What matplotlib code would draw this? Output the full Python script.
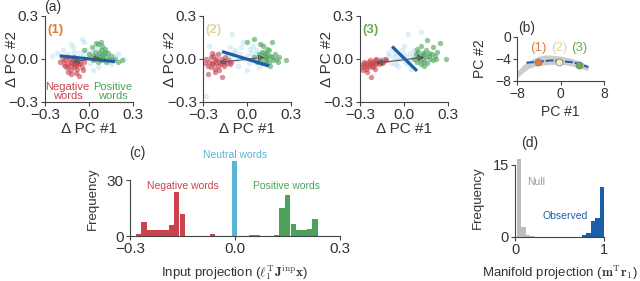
import matplotlib.pyplot as plt

plt.rcParams['font.family'] = ['Liberation Sans', 'DejaVu Sans']
plt.rcParams['mathtext.fontset'] = 'cm'

# ---- (a) scatter clouds: delta PC coordinates per word group ----
red1_x = [-0.20, -0.18, -0.17, -0.16, -0.15, -0.15, -0.14, -0.13, -0.13, -0.12, -0.12, -0.11, -0.11, -0.10, -0.10,
          -0.09, -0.09, -0.08, -0.08, -0.07, -0.06, -0.05, -0.04, -0.03, -0.12, -0.10, -0.14, -0.07, -0.09, -0.16]
red1_y = [-0.02, 0.00, -0.04, -0.01, -0.06, 0.01, -0.03, -0.05, 0.00, -0.02, -0.08, -0.04, -0.01, -0.06, -0.03,
          -0.05, -0.10, -0.02, -0.07, -0.04, -0.03, -0.06, -0.08, -0.02, -0.11, 0.01, -0.09, -0.12, -0.03, -0.05]
grn1_x = [0.00, 0.02, 0.03, 0.04, 0.05, 0.06, 0.06, 0.07, 0.07, 0.08, 0.08, 0.09, 0.09, 0.10, 0.10,
          0.11, 0.12, 0.12, 0.13, 0.14, 0.15, 0.16, 0.18, 0.20, 0.23, 0.05, 0.08, 0.11, 0.03, -0.03]
grn1_y = [0.03, 0.08, -0.01, 0.05, 0.02, -0.02, 0.10, 0.01, 0.04, -0.01, 0.06, 0.02, 0.09, 0.00, 0.03,
          0.05, -0.02, 0.01, 0.04, 0.00, 0.02, -0.01, 0.00, -0.02, -0.01, 0.11, 0.12, 0.07, 0.02, 0.06]
neu1_x = [-0.25, -0.22, -0.20, -0.18, -0.16, -0.14, -0.12, -0.10, -0.08, -0.06, -0.05, -0.04, -0.02, 0.00, 0.01,
          0.02, 0.04, 0.05, 0.06, 0.08, 0.10, 0.12, 0.14, 0.17, 0.20, 0.24, -0.15, -0.08, -0.03, 0.03,
          0.09, -0.11, 0.00, 0.07, 0.15]
neu1_y = [0.02, 0.04, -0.01, 0.06, 0.02, 0.03, 0.10, 0.05, 0.01, 0.04, 0.14, 0.02, 0.06, 0.03, -0.03,
          0.05, 0.01, 0.08, -0.06, 0.03, 0.00, 0.04, -0.02, 0.02, 0.03, 0.00, -0.07, -0.09, 0.12, -0.08,
          0.07, 0.08, 0.01, 0.05, -0.04]
line1 = [(-0.20, 0.02), (0.18, -0.02)]
arrow1 = [(-0.11, -0.02), (0.08, 0.005)]

red2_x = [-0.29, -0.28, -0.27, -0.26, -0.25, -0.25, -0.24, -0.23, -0.23, -0.22, -0.22, -0.21, -0.21, -0.20, -0.20,
          -0.19, -0.19, -0.18, -0.18, -0.17, -0.16, -0.15, -0.14, -0.13, -0.12, -0.11, -0.27, -0.17, -0.22, -0.24]
red2_y = [-0.03, 0.00, -0.05, -0.02, 0.01, -0.06, -0.03, 0.02, -0.04, -0.01, -0.07, 0.00, -0.03, -0.05, 0.03,
          -0.02, -0.08, 0.00, -0.04, -0.02, -0.05, 0.01, -0.03, -0.01, -0.04, -0.02, -0.11, -0.13, -0.09, 0.04]
grn2_x = [0.05, 0.07, 0.08, 0.09, 0.10, 0.10, 0.11, 0.12, 0.12, 0.13, 0.13, 0.14, 0.14, 0.15, 0.15,
          0.16, 0.17, 0.18, 0.19, 0.20, 0.21, 0.22, 0.27, 0.00, 0.05, 0.17, 0.11, 0.14, 0.09, 0.16]
grn2_y = [0.01, -0.02, 0.03, 0.00, 0.05, -0.03, 0.02, -0.01, 0.04, 0.01, -0.04, 0.03, 0.00, 0.06, -0.02,
          0.02, 0.01, -0.01, 0.03, 0.00, -0.02, 0.01, -0.01, 0.12, 0.14, 0.12, 0.09, 0.07, 0.10, -0.05]
neu2_x = [-0.26, -0.22, -0.18, -0.15, -0.13, -0.10, -0.09, -0.07, -0.05, -0.04, -0.02, 0.00, 0.01, 0.03, 0.04,
          0.06, 0.07, 0.09, 0.10, 0.12, -0.12, -0.06, 0.02, 0.08, -0.03, 0.05, -0.16, 0.11, -0.28, 0.00,
          -0.08, 0.04, 0.14, -0.11, 0.06]
neu2_y = [0.09, 0.03, 0.05, 0.00, 0.02, 0.17, 0.04, -0.01, 0.03, 0.08, 0.00, 0.02, -0.03, 0.04, 0.00,
          0.06, -0.02, 0.03, 0.10, 0.02, 0.08, -0.05, 0.07, -0.06, 0.12, 0.01, -0.04, 0.05, -0.26, -0.08,
          0.06, 0.09, -0.03, 0.01, 0.03]
line2 = [(-0.17, 0.05), (0.15, -0.05)]
arrow2 = [(-0.19, -0.025), (0.12, 0.01)]

red3_x = [-0.29, -0.28, -0.28, -0.27, -0.26, -0.26, -0.25, -0.24, -0.24, -0.23, -0.23, -0.22, -0.22, -0.21, -0.21,
          -0.20, -0.20, -0.19, -0.19, -0.18, -0.17, -0.16, -0.15, -0.14, -0.13, -0.12, -0.225, -0.25, -0.20, -0.27]
red3_y = [-0.06, -0.04, -0.08, -0.05, -0.03, -0.07, -0.05, -0.02, -0.06, -0.04, -0.01, -0.05, -0.03, -0.02, -0.06,
          -0.04, -0.01, -0.03, 0.00, -0.02, -0.04, -0.01, -0.03, -0.02, 0.00, -0.01, -0.13, -0.09, -0.07, -0.02]
grn3_x = [0.07, 0.08, 0.09, 0.10, 0.10, 0.11, 0.12, 0.12, 0.13, 0.13, 0.14, 0.14, 0.15, 0.15, 0.16,
          0.17, 0.17, 0.18, 0.19, 0.20, 0.21, 0.22, 0.29, 0.16, 0.25, 0.12, 0.20, 0.09, 0.14, 0.23]
grn3_y = [0.00, 0.03, -0.02, 0.01, 0.05, -0.01, 0.02, -0.04, 0.04, 0.00, 0.03, -0.02, 0.01, 0.06, -0.03,
          0.02, 0.04, 0.00, 0.03, -0.01, 0.02, 0.00, -0.005, 0.13, 0.11, 0.09, 0.08, 0.07, -0.05, 0.05]
neu3_x = [-0.12, -0.10, -0.09, -0.07, -0.06, -0.05, -0.03, -0.02, 0.00, 0.01, 0.02, 0.04, 0.05, 0.06, 0.08,
          0.09, 0.10, -0.14, -0.08, -0.04, 0.03, 0.07, 0.12, 0.03, -0.01, 0.05, -0.11, 0.00, 0.08, -0.06]
neu3_y = [-0.01, 0.02, -0.03, 0.01, 0.04, -0.01, 0.02, 0.00, 0.03, -0.02, 0.01, 0.04, 0.00, 0.02, -0.01,
          0.03, 0.01, 0.00, 0.07, -0.05, 0.175, 0.06, 0.19, -0.04, 0.06, -0.07, 0.04, 0.09, 0.05, -0.04]
line3 = [(-0.08, 0.085), (0.09, -0.085)]
arrow3 = [(-0.19, -0.03), (0.14, 0.01)]

state_tags = ['(1)', '(2)', '(3)']
state_colors = ['#e07a3f', '#ddd79c', '#6aaa4f']

# ---- (b) fixed-point manifold in PC space ----
band_x = [-8, -7, -6, -5, -4, -3, -2, -1, 0, 1, 2, 3, 4, 5]
band_lo = [-7.4, -6.6, -5.8, -5.4, -5.2, -5.1, -5.0, -5.0, -5.0, -5.1, -5.3, -5.5, -5.8, -6.1]
band_hi = [-6.2, -5.2, -4.4, -3.9, -3.5, -3.3, -3.3, -3.4, -3.5, -3.7, -3.9, -4.2, -4.6, -5.2]
mani_x = [-6.3, -5, -4, -3, -2, -1, 0, 1, 2, 3, 4, 5.1]
mani_y = [-4.7, -4.6, -4.5, -4.4, -4.3, -4.3, -4.4, -4.5, -4.6, -4.8, -5.1, -5.5]
state_x = [-4.1, -0.3, 3.4]
state_y = [-4.5, -4.5, -5.1]

# ---- (c) input projection histogram ----
bin_w = 0.0156
neg_left = [-0.283, -0.267, -0.252, -0.236, -0.221, -0.205, -0.189, -0.174, -0.158, -0.072]
neg_count = [1, 7.5, 3.5, 3, 3, 3.5, 6, 23.5, 12, 1]
neu_left = [-0.008]
neu_count = [40]
pos_left = [0.040, 0.056, 0.111, 0.127, 0.143, 0.159, 0.174, 0.190, 0.205, 0.221]
pos_count = [0.5, 0.5, 0.5, 15, 22, 6.5, 3, 3.3, 4, 9]

# ---- (d) manifold projection histogram ----
d_w = 0.05
null_left = [0.02, 0.07, 0.12, 0.17]
null_count = [16.2, 2.0, 0.4, 0.2]
obs_left = [0.75, 0.80, 0.85, 0.90, 0.95]
obs_count = [0.3, 0.8, 3.3, 3.9, 10.4]

RED = '#c9424d'
GREEN = '#4ca25a'
NEUTRAL = '#5ab4d6'
BLUE = '#1c5ea8'
SPINE = '#444444'
TXT = '#333333'


def style(ax, xb, yb, size):
    for s in ['top', 'right']:
        ax.spines[s].set_visible(False)
    ax.spines['left'].set_bounds(*yb)
    ax.spines['bottom'].set_bounds(*xb)
    for s in ['left', 'bottom']:
        ax.spines[s].set_color(SPINE)
        ax.spines[s].set_linewidth(0.8)
    ax.tick_params(length=3, width=0.8, color=SPINE, labelcolor=TXT, labelsize=size, pad=1.5)


fig = plt.figure(figsize=(6.4, 2.81), dpi=100)

panels = [
    (red1_x, red1_y, grn1_x, grn1_y, neu1_x, neu1_y, line1, arrow1),
    (red2_x, red2_y, grn2_x, grn2_y, neu2_x, neu2_y, line2, arrow2),
    (red3_x, red3_y, grn3_x, grn3_y, neu3_x, neu3_y, line3, arrow3),
]
lefts = [0.0703, 0.3175, 0.5625]
for i, (rx, ry, gx, gy, nx, ny, ln, ar) in enumerate(panels):
    ax = fig.add_axes([lefts[i], 0.638, 0.137, 0.306])
    ax.scatter(nx, ny, s=16, color='#9fd4ea', alpha=0.35, lw=0)
    ax.scatter(rx, ry, s=15, color=RED, alpha=0.6, lw=0)
    ax.scatter(gx, gy, s=15, color=GREEN, alpha=0.6, lw=0)
    ax.annotate('', xy=ar[1], xytext=ar[0],
                arrowprops=dict(arrowstyle='<|-|>,head_length=0.35,head_width=0.18',
                                color='#555555', lw=0.8, fc='none', shrinkA=0, shrinkB=0))
    ax.plot([ln[0][0], ln[1][0]], [ln[0][1], ln[1][1]], color=BLUE, lw=2.3, solid_capstyle='butt')
    ax.set_xlim(-0.3, 0.3)
    ax.set_ylim(-0.3, 0.3)
    ax.set_xticks([-0.3, 0.0, 0.3])
    ax.set_yticks([-0.3, 0.0, 0.3])
    ax.set_xticklabels(['\u22120.3', '0.0', '0.3'])
    ax.set_yticklabels(['\u22120.3', '0.0', '0.3'])
    style(ax, (-0.3, 0.3), (-0.3, 0.3), 11)
    ax.set_xlabel('\u0394 PC #1', fontsize=11, color=TXT, labelpad=0)
    ax.set_ylabel('\u0394 PC #2', fontsize=11, color=TXT)
    ax.yaxis.set_label_coords(-0.30, 0.5)
    ax.text(-0.23, 0.2, state_tags[i], color=state_colors[i], fontsize=9.5,
            fontweight='bold', ha='center', va='center')
    if i == 0:
        ax.text(-0.145, -0.23, 'Negative\nwords', color=RED, fontsize=8,
                ha='center', va='center', linespacing=0.95)
        ax.text(0.165, -0.23, 'Positive\nwords', color=GREEN, fontsize=8,
                ha='center', va='center', linespacing=0.95)

fig.text(0.083, 0.975, '(a)', fontsize=10, color=TXT, ha='center', va='center')

# (b)
axb = fig.add_axes([0.808, 0.712, 0.136, 0.157])
axb.fill_between(band_x, band_lo, band_hi, color='#cccccc', lw=0)
axb.plot(mani_x, mani_y, color=BLUE, lw=1.4, ls=(0, (4, 1)))
for i in range(3):
    axb.plot(state_x[i], state_y[i], 'o', ms=5, mfc=state_colors[i] if i != 1 else '#f6f1b4',
             mec='#777777', mew=0.5)
    axb.text(state_x[i], -2.0, state_tags[i], color=state_colors[i], fontsize=9.5,
             ha='center', va='center')
axb.set_xlim(-8, 8)
axb.set_ylim(-8, 0)
axb.set_xticks([-8, 0, 8])
axb.set_yticks([-8, -4, 0])
axb.set_xticklabels(['\u22128', '0', '8'])
axb.set_yticklabels(['\u22128', '\u22124', '0'])
style(axb, (-8, 8), (-8, 0), 10)
axb.set_xlabel('PC #1', fontsize=10, color=TXT, labelpad=3)
axb.set_ylabel('PC #2', fontsize=10, color=TXT)
axb.yaxis.set_label_coords(-0.345, 0.5)
fig.text(0.823, 0.899, '(b)', fontsize=10, color=TXT, ha='center', va='center')

# (c)
axc = fig.add_axes([0.203, 0.160, 0.328, 0.269])
axc.bar(neg_left, neg_count, width=bin_w, align='edge', color=RED, lw=0)
axc.bar(neu_left, neu_count, width=0.013, align='edge', color=NEUTRAL, lw=0)
axc.bar(pos_left, pos_count, width=bin_w, align='edge', color=GREEN, lw=0)
axc.set_xlim(-0.3, 0.3)
axc.set_ylim(0, 40.5)
axc.set_xticks([-0.3, 0.0, 0.3])
axc.set_xticklabels(['\u22120.3', '0.0', '0.3'])
axc.set_yticks([0, 30])
style(axc, (-0.3, 0.3), (0, 30), 11)
axc.set_ylabel('Frequency', fontsize=9.5, color=TXT)
axc.yaxis.set_label_coords(-0.148, 0.5)
axc.set_xlabel(r'Input projection ($\ell_1^{\mathrm{T}}\mathbf{J}^{\mathrm{inp}}\mathbf{x}$)',
               fontsize=9.5, color=TXT, labelpad=5)
axc.text(0.0, 43.4, 'Neutral words', color=NEUTRAL, fontsize=7.5, ha='center', va='center', clip_on=False)
axc.text(-0.15, 26.8, 'Negative words', color=RED, fontsize=7.5, ha='center', va='center')
axc.text(0.147, 26.8, 'Positive words', color=GREEN, fontsize=7.5, ha='center', va='center')
fig.text(0.214, 0.456, '(c)', fontsize=10, color=TXT, ha='center', va='center')

# (d)
axd = fig.add_axes([0.805, 0.157, 0.139, 0.278])
axd.bar(null_left, null_count, width=d_w, align='edge', color='#bdbdbd', lw=0)
axd.bar(obs_left, obs_count, width=d_w, align='edge', color=BLUE, lw=0)
axd.set_xlim(0, 1)
axd.set_ylim(0, 16.3)
axd.set_xticks([0, 1])
axd.set_yticks([0, 15])
style(axd, (0, 1), (0, 15), 10.5)
axd.set_ylabel('Frequency', fontsize=9.5, color=TXT)
axd.yaxis.set_label_coords(-0.35, 0.5)
axd.set_xlabel(r'Manifold projection ($\mathbf{m}^{\mathrm{T}}\mathbf{r}_1$)',
               fontsize=9.5, color=TXT, labelpad=5)
axd.text(0.236, 11.5, 'Null', color='#999999', fontsize=7.5, ha='center', va='center')
axd.text(0.56, 4.4, 'Observed', color=BLUE, fontsize=7.5, ha='center', va='center')
fig.text(0.828, 0.491, '(d)', fontsize=10, color=TXT, ha='center', va='center')

fig.savefig('out.png', dpi=100)
